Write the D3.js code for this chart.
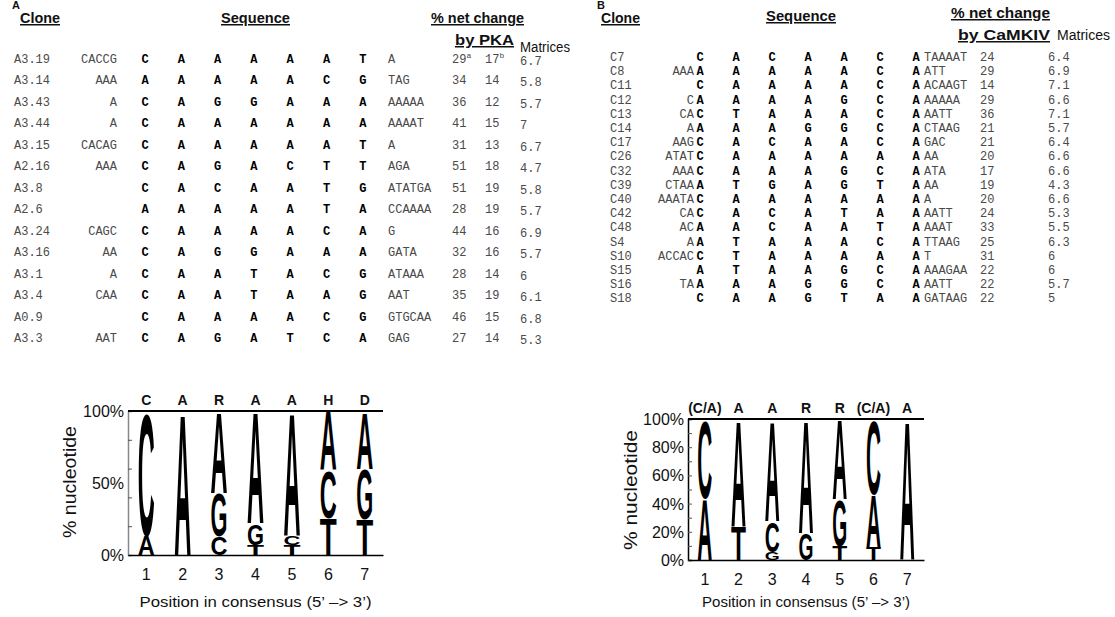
<!DOCTYPE html>
<html>
<head>
<meta charset="utf-8">
<script src="https://cdn.jsdelivr.net/npm/d3@7"></script>
<style>
  body { margin: 0; background: #fff; }
  svg { display: block; }
  .mono { font-family: "Liberation Mono", "Courier New", monospace; font-size: 12px; fill: #4a4a4a; }
  .core { font-family: "Liberation Mono", "Courier New", monospace; font-size: 12px; font-weight: bold; fill: #000; }
  .narrow { font-family: "Liberation Sans Narrow", "Arial Narrow", "Liberation Sans", Arial, sans-serif; fill: #111; }
  .logo { font-family: "Liberation Sans", Arial, sans-serif; font-weight: bold; fill: #000; }
</style>
</head>
<body>
<div id="chart"></div>
<script>
// ---- panel A data (PKA) ----
const clonesA = ['A3.19', 'A3.14', 'A3.43', 'A3.44', 'A3.15', 'A2.16', 'A3.8', 'A2.6', 'A3.24', 'A3.16', 'A3.1', 'A3.4', 'A0.9', 'A3.3'];
const prefixA = ['CACCG', 'AAA', 'A', 'A', 'CACAG', 'AAA', '', '', 'CAGC', 'AA', 'A', 'CAA', '', 'AAT'];
const coreA = ['CAAAAAT', 'AAAAACG', 'CAGGAAA', 'CAAAAAA', 'CAAAAAT', 'CAGACTT', 'CACAATG', 'AAAAATA',
  'CAAAACA', 'CAGGAAA', 'CAATACG', 'CAATAAG', 'CAAAACG', 'CAGATCA'];
const suffixA = ['A', 'TAG', 'AAAAA', 'AAAAT', 'A', 'AGA', 'ATATGA', 'CCAAAA', 'G', 'GATA', 'ATAAA', 'AAT', 'GTGCAA', 'GAG'];
const pkaA1 = [29, 34, 36, 41, 31, 51, 51, 28, 44, 32, 28, 35, 46, 27];
const pkaA2 = [17, 14, 12, 15, 13, 18, 19, 19, 16, 16, 14, 19, 15, 14];
const notesA1 = ['a', '', '', '', '', '', '', '', '', '', '', '', '', ''];
const notesA2 = ['b', '', '', '', '', '', '', '', '', '', '', '', '', ''];
const matricesA = ['6.7', '5.8', '5.7', '7', '6.7', '4.7', '5.8', '5.7', '6.9', '5.7', '6', '6.1', '6.8', '5.3'];

// logo stacks, bottom to top, % of clones
const consensusA = ['C', 'A', 'R', 'A', 'A', 'H', 'D'];
const logoA = [
  [['A', 14], ['C', 86]],
  [['A', 100]],
  [['C', 13], ['G', 30], ['A', 57]],
  [['T', 7], ['G', 15], ['A', 78]],
  [['T', 7], ['C', 6], ['A', 87]],
  [['T', 26], ['C', 33], ['A', 41]],
  [['T', 25], ['G', 35], ['A', 40]]
];

// ---- panel B data (CaMKIV) ----
const clonesB = ['C7', 'C8', 'C11', 'C12', 'C13', 'C14', 'C17', 'C26', 'C32', 'C39', 'C40', 'C42', 'C48', 'S4', 'S10', 'S15', 'S16', 'S18'];
const prefixB = ['', 'AAA', '', 'C', 'CA', 'A', 'AAG', 'ATAT', 'AAA', 'CTAA', 'AAATA', 'CA', 'AC', 'A', 'ACCAC', '', 'TA', ''];
const coreB = ['CACAACA', 'AAAAACA', 'CAAAACA', 'AAAAGCA', 'CTAAACA', 'AAAGGCA', 'CACAACA', 'CAAAAAA', 'CAAAGCA',
  'ATGAGTA', 'CAAAAAA', 'CACATAA', 'AACAATA', 'ATAAACA', 'CTAAAAA', 'ATAAGCA', 'AAAGGCA', 'CAAGTAA'];
const suffixB = ['TAAAAT', 'ATT', 'ACAAGT', 'AAAAA', 'AATT', 'CTAAG', 'GAC', 'AA', 'ATA', 'AA', 'A', 'AATT', 'AAAT', 'TTAAG', 'T', 'AAAGAA', 'AATT', 'GATAAG'];
const camkB = [24, 29, 14, 29, 36, 21, 21, 20, 17, 19, 20, 24, 33, 25, 31, 22, 22, 22];
const matricesB = ['6.4', '6.9', '7.1', '6.6', '7.1', '5.7', '6.4', '6.6', '6.6', '4.3', '6.6', '5.3', '5.5', '6.3', '6', '6', '5.7', '5'];

const consensusB = ['(C/A)', 'A', 'A', 'R', 'R', '(C/A)', 'A'];
const logoB = [
  [['A', 44], ['C', 56]],
  [['T', 24], ['A', 76]],
  [['G', 6], ['C', 22], ['A', 72]],
  [['G', 19], ['A', 81]],
  [['T', 10], ['G', 33], ['A', 57]],
  [['T', 9], ['A', 38], ['C', 53]],
  [['A', 100]]
];
const positions = [1, 2, 3, 4, 5, 6, 7];

const W = 1115, H = 617;
const svg = d3.select('#chart').append('svg')
  .attr('width', W)
  .attr('height', H);

// header text helper (narrow font, forced width)
function label(x, y, txt, size, width, opts = {}) {
  const t = svg.append('text')
    .attr('class', 'narrow')
    .attr('x', x)
    .attr('y', y)
    .attr('font-size', size)
    .attr('font-weight', opts.bold ? 'bold' : 'normal')
    .attr('text-decoration', opts.under ? 'underline' : null)
    .text(txt);
  if (width) t.attr('textLength', width).attr('lengthAdjust', 'spacingAndGlyphs');
  return t;
}

// ---------- table ----------
function drawTable(cfg) {
  const g = svg.append('g');
  cfg.clones.forEach((c, i) => {
    const y = cfg.y0 + i * cfg.dy;
    g.append('text').attr('class', 'mono').attr('x', cfg.xClone).attr('y', y).text(c);
    g.append('text').attr('class', 'mono').attr('x', cfg.xPrefix).attr('y', y)
      .attr('text-anchor', 'end').text(cfg.prefix[i]);
    cfg.core[i].split('').forEach((ch, j) => {
      g.append('text').attr('class', 'core')
        .attr('x', cfg.xCore + j * cfg.dxCore).attr('y', y)
        .attr('text-anchor', 'middle').text(ch);
    });
    g.append('text').attr('class', 'mono').attr('x', cfg.xSuffix).attr('y', y).text(cfg.suffix[i]);
    cfg.nums.forEach(col => {
      const t = g.append('text').attr('class', 'mono')
        .attr('x', col.x).attr('y', y + (col.dy || 0))
        .attr('font-size', col.size || 12)
        .text(col.values[i]);
      if (col.notes && col.notes[i]) {
        t.append('tspan').attr('font-size', 8).attr('dy', -5).text(col.notes[i]);
      }
    });
  });
}

drawTable({
  clones: clonesA, prefix: prefixA, core: coreA, suffix: suffixA,
  y0: 63, dy: 21.46, xClone: 14, xPrefix: 117, xCore: 145, dxCore: 36.3, xSuffix: 388,
  nums: [
    { x: 452, values: pkaA1, notes: notesA1, size: 13 },
    { x: 485, values: pkaA2, notes: notesA2, size: 13 },
    { x: 520, values: matricesA, size: 13, dy: 2 }
  ]
});

drawTable({
  clones: clonesB, prefix: prefixB, core: coreB, suffix: suffixB,
  y0: 61, dy: 14.2, xClone: 610, xPrefix: 694, xCore: 700, dxCore: 36, xSuffix: 924,
  nums: [
    { x: 980, values: camkB, size: 13 },
    { x: 1048, values: matricesB, size: 13 }
  ]
});

// panel letters and headers
svg.append('text').attr('x', 12).attr('y', 9).attr('class', 'narrow')
  .attr('font-size', 11).attr('font-weight', 'bold').text('A');
svg.append('text').attr('x', 597).attr('y', 9).attr('class', 'narrow')
  .attr('font-size', 11).attr('font-weight', 'bold').text('B');

label(20, 23, 'Clone', 15, 40, { bold: true, under: true });
label(221, 23, 'Sequence', 15, 69, { bold: true, under: true });
label(431, 23, '% net change', 15, 93, { bold: true, under: true });
label(455, 45, 'by PKA', 15, 59, { bold: true, under: true });
label(520, 52, 'Matrices', 14, 50);

label(601, 23, 'Clone', 15, 39, { bold: true, under: true });
label(766, 21, 'Sequence', 15, 70, { bold: true, under: true });
label(951, 18, '% net change', 15, 99, { bold: true, under: true });
label(958, 40, 'by CaMKIV', 15, 92, { bold: true, under: true });
label(1057, 40, 'Matrices', 14, 53);

// ---------- sequence logos ----------
const CAP = 71.6; // cap height at 100px, Liberation Sans Bold

function drawLogo(cfg) {
  const x = d3.scaleBand().domain(positions).range(cfg.xRange).padding(0);
  const y = d3.scaleLinear().domain([0, 100]).range(cfg.yRange);
  const g = svg.append('g');

  // stacked letters
  cfg.stacks.forEach((stack, i) => {
    const cx = x(positions[i]) + x.bandwidth() / 2;
    let base = 0;
    stack.forEach(([letter, pct]) => {
      const y0 = y(base), y1 = y(base + pct);
      base += pct;
      const t = g.append('text').attr('class', 'logo')
        .attr('font-size', 100)
        .attr('text-anchor', 'middle')
        .text(letter);
      const w = t.node().getComputedTextLength();
      const sx = cfg.letterW / w;
      const sy = (y0 - y1) / CAP;
      t.attr('transform', `translate(${cx},${y0}) scale(${sx},${sy})`);
    });
  });

  // y axis with inward minor ticks
  const yAxis = g.append('g')
    .attr('transform', `translate(${cfg.xRange[0]},0)`)
    .call(d3.axisLeft(y).tickValues(cfg.tickVals).tickSize(-4).tickFormat(''));
  yAxis.select('.domain').attr('stroke', cfg.axisColor).attr('stroke-width', 1.5);
  yAxis.selectAll('.tick line').attr('stroke', '#555');

  cfg.labelVals.forEach(v => {
    g.append('text').attr('class', 'narrow')
      .attr('x', cfg.xRange[0] - 4).attr('y', y(v) + 6)
      .attr('text-anchor', 'end').attr('font-size', 16)
      .text(v + '%');
  });

  // bottom axis
  const xAxis = g.append('g')
    .attr('transform', `translate(0,${cfg.yRange[0]})`)
    .call(d3.axisBottom(x).tickSize(0).tickPadding(14));
  xAxis.select('.domain').attr('stroke', '#000').attr('stroke-width', 1.5);
  xAxis.selectAll('.tick text').attr('class', 'narrow')
    .attr('font-size', 16).attr('fill', '#111');

  // top rule at 100%
  g.append('line')
    .attr('x1', cfg.xRange[0]).attr('x2', cfg.xRange[1])
    .attr('y1', y(100)).attr('y2', y(100))
    .attr('stroke', '#000').attr('stroke-width', 2);

  // consensus letters above
  cfg.consensus.forEach((c, i) => {
    g.append('text').attr('class', 'narrow')
      .attr('x', x(positions[i]) + x.bandwidth() / 2)
      .attr('y', y(100) - 6)
      .attr('text-anchor', 'middle')
      .attr('font-size', 14).attr('font-weight', 'bold')
      .text(c);
  });

  // axis titles
  g.append('text').attr('class', 'narrow')
    .attr('transform', `translate(${cfg.yTitleX},${cfg.yTitleY}) rotate(-90)`)
    .attr('text-anchor', 'middle').attr('font-size', 19)
    .attr('textLength', cfg.yTitleW).attr('lengthAdjust', 'spacingAndGlyphs')
    .text('% nucleotide');
  label((cfg.xRange[0] + cfg.xRange[1]) / 2 - cfg.titleW / 2, 607,
    'Position in consensus (5\u2019 \u2013> 3\u2019)', 15, cfg.titleW);
}

drawLogo({
  stacks: logoA, consensus: consensusA,
  xRange: [128, 383], yRange: [555, 411], letterW: 17, axisColor: '#888',
  tickVals: [0, 20, 40, 60, 80, 100], labelVals: [0, 50, 100],
  yTitleX: 76, yTitleY: 482, yTitleW: 112, titleW: 232
});

drawLogo({
  stacks: logoB, consensus: consensusB,
  xRange: [688, 924], yRange: [560, 419], letterW: 15, axisColor: '#000',
  tickVals: d3.range(0, 101, 10), labelVals: [0, 20, 40, 60, 80, 100],
  yTitleX: 637, yTitleY: 490, yTitleW: 120, titleW: 208
});
</script>
</body>
</html>
